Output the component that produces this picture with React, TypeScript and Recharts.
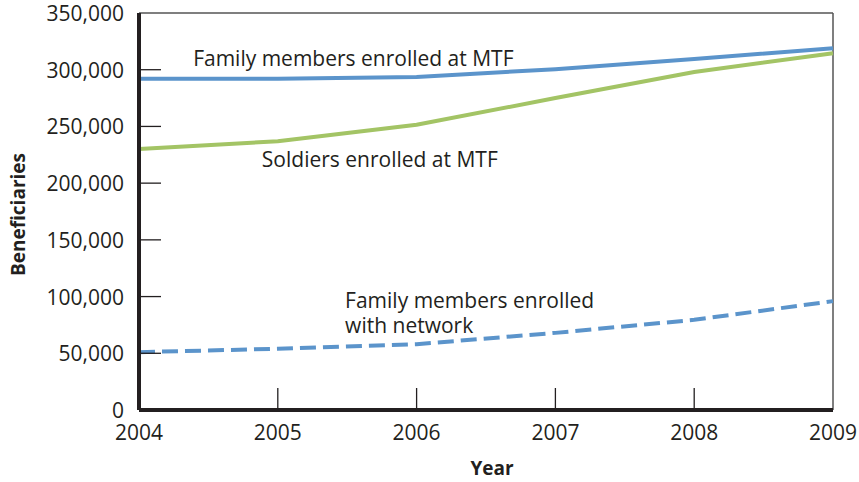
import React from 'react';
import { LineChart, Line, XAxis, YAxis, ReferenceLine, ReferenceDot } from 'recharts';

const years = [2004, 2005, 2006, 2007, 2008, 2009];
const familyMtf = [292000, 292000, 293500, 300500, 309500, 319000];
const soldiersMtf = [230000, 237000, 251500, 275000, 298000, 314500];
const familyNetwork = [51000, 54000, 58000, 68000, 79500, 96000];
const yTicks = [0, 50000, 100000, 150000, 200000, 250000, 300000, 350000];

const data = years.map((year, i) => ({
  year,
  familyMtf: familyMtf[i],
  soldiersMtf: soldiersMtf[i],
  familyNetwork: familyNetwork[i],
}));

const FONT = '"Open Sans", "Noto Sans", sans-serif';
const TEXT = '#231f20';
const BLUE = '#5b94cb';
const GREEN = '#a3c465';

const XTick = (props: any) => {
  const { x, y, payload } = props;
  const inner = payload.value !== 2004 && payload.value !== 2009;
  return (
    <g>
      {inner && <line x1={x} x2={x} y1={y} y2={y - 22} stroke={TEXT} strokeWidth={1.3} />}
      <text x={x} y={y + 30} textAnchor="middle" fill={TEXT} fontSize={21} fontFamily={FONT}>
        {payload.value}
      </text>
    </g>
  );
};

const YTick = (props: any) => {
  const { x, y, payload } = props;
  const inner = payload.value !== 0 && payload.value !== 350000;
  return (
    <g>
      {inner && <line x1={x} x2={x + 22} y1={y} y2={y} stroke={TEXT} strokeWidth={1.3} />}
      <text x={x - 15} y={y + 8} textAnchor="end" fill={TEXT} fontSize={21} fontFamily={FONT}>
        {payload.value.toLocaleString('en-US')}
      </text>
    </g>
  );
};

const note = (lines: string[]) => (props: any) => {
  const { viewBox } = props;
  const x = viewBox.x + (viewBox.width || 0) / 2;
  const y = viewBox.y + (viewBox.height || 0) / 2;
  return (
    <text x={x} y={y} fill={TEXT} fontSize={21} fontFamily={FONT}>
      {lines.map((t, i) => (
        <tspan key={i} x={x} dy={i === 0 ? 0 : 25}>
          {t}
        </tspan>
      ))}
    </text>
  );
};

const YLabel = (props: any) => {
  const { viewBox } = props;
  const x = viewBox.x + 18;
  const y = viewBox.y + viewBox.height / 2 + 3;
  return (
    <text
      x={x}
      y={y}
      transform={`rotate(-90, ${x}, ${y})`}
      textAnchor="middle"
      dominantBaseline="central"
      fill={TEXT}
      fontSize={19}
      fontWeight={700}
      fontFamily={FONT}
    >
      Beneficiaries
    </text>
  );
};

const XLabel = (props: any) => {
  const { viewBox } = props;
  const x = viewBox.x + viewBox.width / 2 + 6;
  return (
    <text x={x} y={475} textAnchor="middle" fill={TEXT} fontSize={19} fontWeight={700} fontFamily={FONT}>
      Year
    </text>
  );
};

export default function App() {
  return (
    <div style={{ position: 'absolute', left: 0, top: 0, background: '#fff' }}>
      <LineChart width={859} height={482} data={data} margin={{ top: 13, right: 26, left: 0, bottom: 0 }}>
        <XAxis
          dataKey="year"
          type="number"
          domain={[2004, 2009]}
          ticks={years}
          height={72}
          tickSize={0}
          tickMargin={0}
          tick={<XTick />}
          axisLine={{ stroke: TEXT, strokeWidth: 4 }}
          label={<XLabel />}
        />
        <YAxis
          type="number"
          domain={[0, 350000]}
          ticks={yTicks}
          width={139}
          tickSize={0}
          tickMargin={0}
          tick={<YTick />}
          axisLine={{ stroke: TEXT, strokeWidth: 4 }}
          label={<YLabel />}
        />
        <ReferenceLine y={350000} stroke="#555" strokeWidth={1.5} />
        <ReferenceLine x={2009} stroke="#555" strokeWidth={1.5} />
        <Line dataKey="familyMtf" stroke={BLUE} strokeWidth={4} dot={false} isAnimationActive={false} />
        <Line dataKey="soldiersMtf" stroke={GREEN} strokeWidth={4} dot={false} isAnimationActive={false} />
        <Line
          dataKey="familyNetwork"
          stroke={BLUE}
          strokeWidth={4}
          strokeDasharray="16 7"
          dot={false}
          isAnimationActive={false}
        />
        <ReferenceDot x={2004.39} y={303300} r={0} label={note(['Family members enrolled at MTF'])} />
        <ReferenceDot x={2004.885} y={214000} r={0} label={note(['Soldiers enrolled at MTF'])} />
        <ReferenceDot
          x={2005.485}
          y={89700}
          r={0}
          label={note(['Family members enrolled', 'with network'])}
        />
      </LineChart>
    </div>
  );
}
